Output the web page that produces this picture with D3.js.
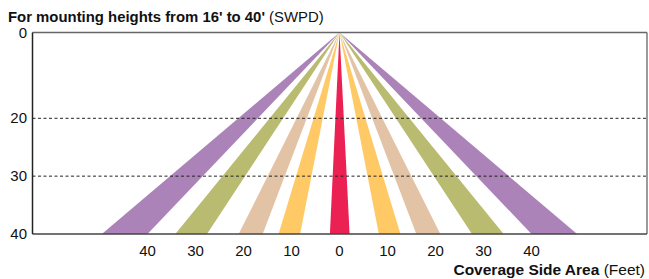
<!DOCTYPE html>
<html>
<head>
<meta charset="utf-8">
<script src="https://cdn.jsdelivr.net/npm/d3@7"></script>
<style>
  html, body { margin: 0; padding: 0; background: #fff; }
  svg { display: block; font-family: "Liberation Sans", Arial, Helvetica, sans-serif; }
</style>
</head>
<body>
<svg id="chart" width="649" height="279"></svg>
<script>
// ---- data ----
const title = "For mounting heights from 16' to 40'";
const titleNote = "(SWPD)";
const xTitle = "Coverage Side Area";
const xTitleNote = "(Feet)";
const yTicks = [0, 20, 30, 40];
const xTickLabels = [40, 30, 20, 10, 0, 10, 20, 30, 40];
const xTickValues = [-40, -30, -20, -10, 0, 10, 20, 30, 40];
const dashedHeights = [20, 30];
const mountHeight = 40;
// beam spread at the floor (feet from centre): inner, outer
const beamNames = ["0", "10", "20", "30", "40"];
const beamInner = [-2.0, 8.2, 16.0, 27.6, 40.0];
const beamOuter = [2.1, 12.7, 21.0, 34.2, 49.5];
const beamColors = ["#ec2153", "#ffc966", "#e2c3a6", "#b9bb70", "#ab83b9"];

// ---- layout ----
const mL = 32.5, mR = 647, mT = 32.5, mB = 234;
const svg = d3.select("#chart");

const x = d3.scaleLinear().domain([-10, 10]).range([291.5, 387.5]);
const y = d3.scaleLinear().domain([0, 20, 40]).range([mT, 118.3, mB]);

// beams
const beams = beamNames.map((n, i) => ({ inner: beamInner[i], outer: beamOuter[i], color: beamColors[i] }));
const g = svg.append("g");
beams.forEach(b => {
  [1, -1].forEach(side => {
    if (b.inner < 0 && side === -1) return;
    const a = side * b.inner, c = side * b.outer;
    const pts = [[x(0), y(0)], [x(a), y(mountHeight)], [x(c), y(mountHeight)]];
    g.append("path")
      .attr("d", "M" + pts.map(p => p.join(",")).join("L") + "Z")
      .attr("fill", b.color);
  });
});

// dashed grid
svg.selectAll(".dash").data(dashedHeights).enter().append("line")
  .attr("x1", mL).attr("x2", mR)
  .attr("y1", d => y(d)).attr("y2", d => y(d))
  .attr("stroke", "#222").attr("stroke-width", 1).attr("stroke-dasharray", "3,2.5");

// frame
svg.append("line").attr("x1", mL).attr("x2", mR).attr("y1", mT).attr("y2", mT)
  .attr("stroke", "#666").attr("stroke-width", 1.3);
svg.append("line").attr("x1", mR).attr("x2", mR).attr("y1", mT).attr("y2", mB)
  .attr("stroke", "#666").attr("stroke-width", 1.3);
svg.append("line").attr("x1", mL).attr("x2", mR).attr("y1", mB).attr("y2", mB)
  .attr("stroke", "#444").attr("stroke-width", 1.5);
svg.append("line").attr("x1", mL).attr("x2", mL).attr("y1", mT).attr("y2", mB)
  .attr("stroke", "#222").attr("stroke-width", 1.5);

// y labels
svg.selectAll(".ylab").data(yTicks).enter().append("text")
  .attr("x", 27).attr("y", d => y(d) + 5)
  .attr("text-anchor", "end").attr("font-size", 15).attr("fill", "#111")
  .text(d => d);

// x labels
svg.selectAll(".xlab").data(xTickValues).enter().append("text")
  .attr("x", d => x(d)).attr("y", 256)
  .attr("text-anchor", "middle").attr("font-size", 15).attr("fill", "#111")
  .text((d, i) => xTickLabels[i]);

// title
const t = svg.append("text").attr("x", 8).attr("y", 21.5).attr("font-size", 14.9).attr("fill", "#111");
t.append("tspan").attr("font-weight", "bold").text(title);
t.append("tspan").text(" " + titleNote);

// x title
const xt = svg.append("text").attr("x", 645).attr("y", 275).attr("text-anchor", "end")
  .attr("font-size", 15.5).attr("fill", "#111");
xt.append("tspan").attr("font-weight", "bold").text(xTitle);
xt.append("tspan").text(" " + xTitleNote);
</script>
</body>
</html>
